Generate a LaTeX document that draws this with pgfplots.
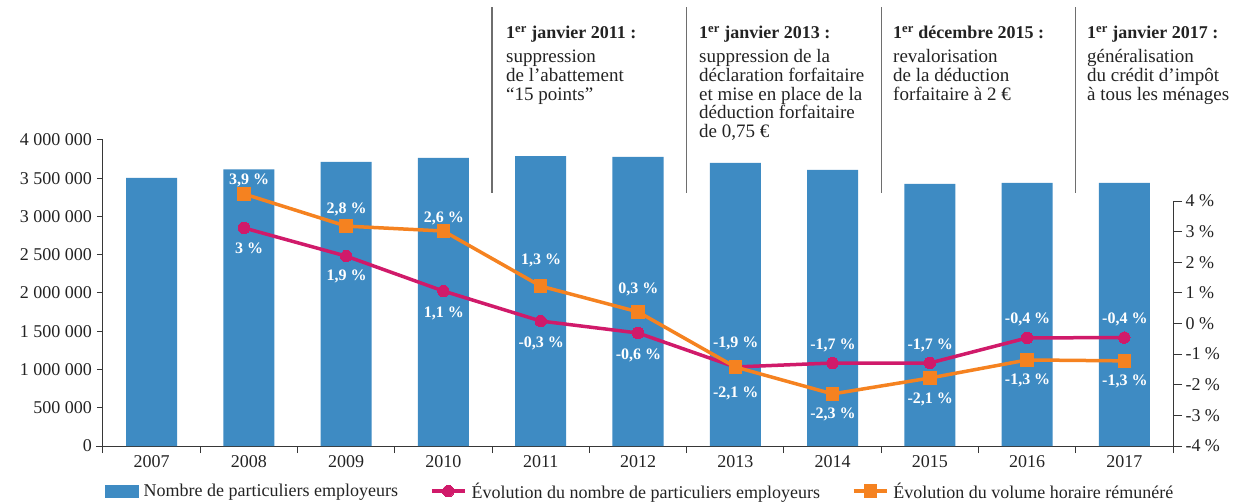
\documentclass[border=0pt]{standalone}
\usepackage{fontspec}
\setmainfont{Liberation Serif}
\usepackage{pgfplots}
\pgfplotsset{compat=1.18}
\usepackage{pgfplotstable}

\definecolor{barblue}{RGB}{62,139,195}
\definecolor{mag}{RGB}{208,26,106}
\definecolor{org}{RGB}{245,130,32}
\definecolor{axgray}{RGB}{55,55,55}
\definecolor{txt}{RGB}{35,35,35}
\definecolor{annline}{RGB}{110,110,110}

\newcommand\basefont{\fontsize{18bp}{21bp}\selectfont}
\newcommand\annfont{\fontsize{19bp}{22bp}\selectfont}
\newcommand\headfont{\fontsize{18bp}{21bp}\selectfont\bfseries}
\newcommand\labfont{\fontsize{16bp}{19bp}\selectfont\bfseries}
% label: #1 vertical offset (bp), #2 horizontal offset (bp), #3 text
\newcommand\lab[3]{\raisebox{\dimexpr#1bp-0.34em\relax}[0pt][0pt]{\kern#2bp\makebox[0pt]{#3}}}

\pgfplotstableread{
x y
0 3505000
1 3615000
2 3715000
3 3765000
4 3790000
5 3780000
6 3700000
7 3610000
8 3425000
9 3438000
10 3438000
}\bartab

\pgfplotstableread{
x y lab
0.95 3.12 \lab{-20}{5}{3~\%}
2 2.20 \lab{-19}{0}{1,9~\%}
3 1.06 \lab{-21}{0}{1,1~\%}
4 0.08 \lab{-21}{0}{-0,3~\%}
5 -0.31 \lab{-21}{0}{-0,6~\%}
6 -1.42 \lab{25}{0}{-1,9~\%}
7 -1.29 \lab{19}{0}{-1,7~\%}
8 -1.29 \lab{19}{0}{-1,7~\%}
9 -0.47 \lab{20}{0}{-0,4~\%}
10 -0.46 \lab{20}{0}{-0,4~\%}
}\magtab

\pgfplotstableread{
x y lab
0.95 4.23 \lab{15}{5}{3,9~\%}
2 3.18 \lab{18}{0}{2,8~\%}
3 3.02 \lab{14}{0}{2,6~\%}
4 1.22 \lab{27}{0}{1,3~\%}
5 0.38 \lab{24}{0}{0,3~\%}
6 -1.42 \lab{-25}{0}{-2,1~\%}
7 -2.30 \lab{-19}{0}{-2,3~\%}
8 -1.78 \lab{-20}{0}{-2,1~\%}
9 -1.19 \lab{-19}{0}{-1,3~\%}
10 -1.22 \lab{-19}{0}{-1,3~\%}
}\orgtab

\begin{document}
\begin{tikzpicture}
\begin{axis}[
  at={(0,0)}, anchor=south west,
  scale only axis, width=1070bp, height=306bp,
  xmin=-0.5, xmax=10.5, ymin=0, ymax=4000000,
  axis x line*=bottom, axis y line*=left,
  x axis line style={-, axgray, line width=1bp, shorten <=-7bp, shorten >=-7bp},
  y axis line style={-, axgray, line width=1bp},
  tick align=outside,
  xtick={0,...,10},
  xticklabels={2007,2008,2009,2010,2011,2012,2013,2014,2015,2016,2017},
  major x tick style={draw=none},
  minor xtick={-0.5,0.5,...,10.5},
  minor x tick style={axgray, line width=1bp},
  minor tick length=7bp,
  scaled y ticks=false,
  ytick={0,500000,1000000,1500000,2000000,2500000,3000000,3500000,4000000},
  yticklabels={0,500 000,1 000 000,1 500 000,2 000 000,2 500 000,3 000 000,3 500 000,4 000 000},
  yticklabel style={xshift=-1.5bp},
  major tick length=6bp,
  y tick style={axgray, line width=1bp},
  ticklabel style={font=\basefont, text=txt},
  /pgf/number format/assume math mode=true,
  clip=false,
]
\addplot[ybar, bar width=51bp, fill=barblue, draw=none] table[x=x,y=y] {\bartab};
\end{axis}

\begin{axis}[
  at={(0,0)}, anchor=south west,
  scale only axis, width=1070bp, height=245bp,
  xmin=-0.5, xmax=10.5, ymin=-4, ymax=4,
  axis x line=none, axis y line*=right,
  y axis line style={-, axgray, line width=1bp},
  tick align=outside,
  scaled y ticks=false,
  ytick={-4,-3,-2,-1,0,1,2,3,4},
  yticklabels={-4~\%,-3~\%,-2~\%,-1~\%,0~\%,1~\%,2~\%,3~\%,4~\%},
  major tick length=9bp,
  y tick style={axgray, line width=1bp},
  ticklabel style={font=\basefont, text=txt},
  /pgf/number format/assume math mode=true,
  clip=false,
  legend style={at={(axis description cs:0.0019,-0.184)}, anchor=west,
    draw=none, fill=none, inner sep=0pt, font=\basefont, text=txt,
    legend columns=-1,
    nodes={inner sep=0pt},
    /tikz/every odd column/.append style={column sep=5bp},
    /tikz/every even column/.append style={column sep=32bp}},
  legend cell align=left,
  legend image code/.code={\draw[mark repeat=2,mark phase=2,#1] plot coordinates {(0bp,0bp) (16.5bp,0bp) (33bp,0bp)};},
]
\addlegendimage{legend image code/.code={\fill[barblue] (0bp,-6bp) rectangle (33bp,6bp);}}
\addlegendentry{Nombre de particuliers employeurs}

\addplot[mag, line width=3.5bp, mark=*, mark size=5.7bp, mark options={solid, fill=mag, draw=mag, line width=0bp},
  point meta=explicit symbolic,
  nodes near coords,
  every node near coord/.append style={anchor=base west, inner sep=0pt, text=white, font=\labfont},
] table[x=x,y=y,meta=lab] {\magtab};
\addlegendentry{Évolution du nombre de particuliers employeurs}

\addplot[org, line width=3.5bp, mark=square*, mark size=6.2bp, mark options={solid, fill=org, draw=org, line width=0bp},
  point meta=explicit symbolic,
  nodes near coords,
  every node near coord/.append style={anchor=base west, inner sep=0pt, text=white, font=\labfont},
] table[x=x,y=y,meta=lab] {\orgtab};
\addlegendentry{Évolution du volume horaire rémunéré}
\end{axis}

% annotation separators
\foreach \lx in {389.1,583.6,778.2,972.7}{
  \draw[annline, line width=1.4bp] (\lx bp,253bp) -- (\lx bp,439bp);
}
% annotation texts
\node[anchor=base west, inner sep=0pt, font=\headfont, text=txt] at (403bp,407bp) {1\textsuperscript{er} janvier 2011 :};
\foreach \t [count=\i from 0] in {suppression,de l’abattement,“15 points”}{
  \node[anchor=base west, inner sep=0pt, font=\annfont, text=txt] at (403bp,{383bp-\i*18.6bp}) {\t};
}
\node[anchor=base west, inner sep=0pt, font=\headfont, text=txt] at (596bp,407bp) {1\textsuperscript{er} janvier 2013 :};
\foreach \t [count=\i from 0] in {suppression de la,déclaration forfaitaire,et mise en place de la,déduction forfaitaire,{de 0,75 €}}{
  \node[anchor=base west, inner sep=0pt, font=\annfont, text=txt] at (596bp,{383bp-\i*18.6bp}) {\t};
}
\node[anchor=base west, inner sep=0pt, font=\headfont, text=txt] at (790bp,407bp) {1\textsuperscript{er} décembre 2015 :};
\foreach \t [count=\i from 0] in {revalorisation,de la déduction,forfaitaire à 2 €}{
  \node[anchor=base west, inner sep=0pt, font=\annfont, text=txt] at (790bp,{383bp-\i*18.6bp}) {\t};
}
\node[anchor=base west, inner sep=0pt, font=\headfont, text=txt] at (984bp,407bp) {1\textsuperscript{er} janvier 2017 :};
\foreach \t [count=\i from 0] in {généralisation,du crédit d’impôt,à tous les ménages}{
  \node[anchor=base west, inner sep=0pt, font=\annfont, text=txt] at (984bp,{383bp-\i*18.6bp}) {\t};
}

\pgfresetboundingbox
\path[use as bounding box] (-103bp,-56bp) rectangle (1138bp,446bp);
\end{tikzpicture}
\end{document}
